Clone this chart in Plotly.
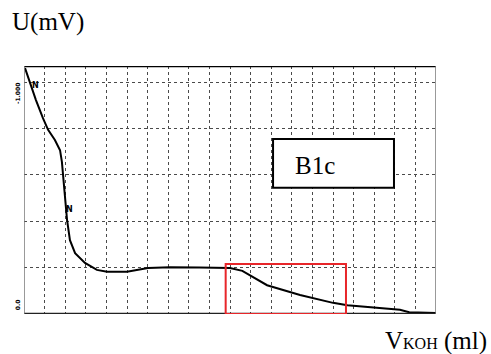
import plotly.graph_objects as go

# Titration curve, read in grid divisions (20 across, ~5.35 up)
volume_ml = [0.05, 0.29, 0.58, 0.92, 1.17, 1.50, 1.75, 1.84, 1.89, 1.99, 2.09, 2.23,
             2.48, 2.96, 3.54, 4.03, 5.00, 6.02, 7.09, 8.5, 10.0, 10.6, 11.8, 13.4,
             15.0, 15.7, 17.0, 18.25, 18.7, 20.0]
potential = [5.30, 4.98, 4.61, 4.22, 3.97, 3.75, 3.53, 3.28, 3.00, 2.46, 2.03, 1.59,
             1.31, 1.10, 0.95, 0.91, 0.91, 0.99, 1.01, 1.00, 0.99, 0.93, 0.62, 0.41,
             0.24, 0.19, 0.14, 0.09, 0.04, 0.02]

y_top = 5.345
sample_name = "B1c"

fig = go.Figure()
fig.add_trace(go.Scatter(x=volume_ml, y=potential, mode="lines",
                         line=dict(color="black", width=2), hoverinfo="skip"))

axis_common = dict(showticklabels=False, ticks="", zeroline=False, showline=False,
                   showgrid=True, gridcolor="#4a4a4a", gridwidth=1, griddash="dot",
                   fixedrange=True)
fig.update_xaxes(range=[0, 20], dtick=1, tick0=0, **axis_common)
fig.update_yaxes(range=[0, y_top], dtick=1, tick0=0, **axis_common)

shapes = [
    # frame
    dict(type="line", xref="x", yref="y", x0=0, x1=20, y0=y_top, y1=y_top,
         line=dict(color="black", width=2.5)),
    dict(type="line", xref="x", yref="y", x0=0, x1=20, y0=0, y1=0,
         line=dict(color="#222", width=2.5)),
    dict(type="line", xref="x", yref="y", x0=0, x1=0, y0=0, y1=y_top,
         line=dict(color="#777", width=1.5)),
    dict(type="line", xref="x", yref="y", x0=20, x1=20, y0=0, y1=y_top,
         line=dict(color="#777", width=1.5)),
    # highlighted region
    dict(type="rect", xref="x", yref="y", x0=9.79, x1=15.63, y0=0, y1=1.08,
         line=dict(color="#e8262a", width=2), fillcolor="rgba(0,0,0,0)"),
    # sample label box
    dict(type="rect", xref="x", yref="y", x0=12.09, x1=17.96, y0=2.72, y1=3.77,
         line=dict(color="black", width=2), fillcolor="white"),
]
fig.update_layout(shapes=shapes)

serif = "Liberation Serif, Times New Roman, serif"
annotations = [
    dict(text=sample_name, x=14.15, y=3.2, xref="x", yref="y", showarrow=False,
         font=dict(family=serif, size=25, color="black")),
    # y-axis title, above the frame's top-left corner
    dict(text="U(mV)", x=0, y=1, xref="paper", yref="paper", xanchor="left",
         yanchor="bottom", xshift=-14, yshift=28, showarrow=False,
         font=dict(family=serif, size=25, color="black")),
    # x-axis title, below the frame's right end (small-caps style suffix)
    dict(text='V<span style="font-size:16px">KOH</span> (ml)', x=1, y=0,
         xref="paper", yref="paper", xanchor="right", yanchor="top", xshift=53,
         yshift=-11, showarrow=False,
         font=dict(family=serif, size=25, color="black")),
    # small scale marks on the left edge
    dict(text="<b>-1.000</b>", x=0, y=4.75, xref="x", yref="y", xanchor="right",
         xshift=-1, textangle=-90, showarrow=False,
         font=dict(family="DejaVu Sans", size=6, color="black")),
    dict(text="<b>0.0</b>", x=0, y=0.2, xref="x", yref="y", xanchor="right",
         xshift=-1, textangle=-90, showarrow=False,
         font=dict(family="DejaVu Sans", size=6, color="black")),
    dict(text="<b>N</b>", x=0.55, y=4.92, xref="x", yref="y", showarrow=False,
         font=dict(family="DejaVu Sans", size=8, color="black")),
    dict(text="<b>N</b>", x=2.2, y=2.25, xref="x", yref="y", showarrow=False,
         font=dict(family="DejaVu Sans", size=8, color="black")),
]
fig.update_layout(annotations=annotations)

fig.update_layout(width=491, height=354, margin=dict(l=24, r=55, t=66, b=40),
                  paper_bgcolor="white", plot_bgcolor="white", showlegend=False)

fig.write_html("out.html", config={"displayModeBar": False})
